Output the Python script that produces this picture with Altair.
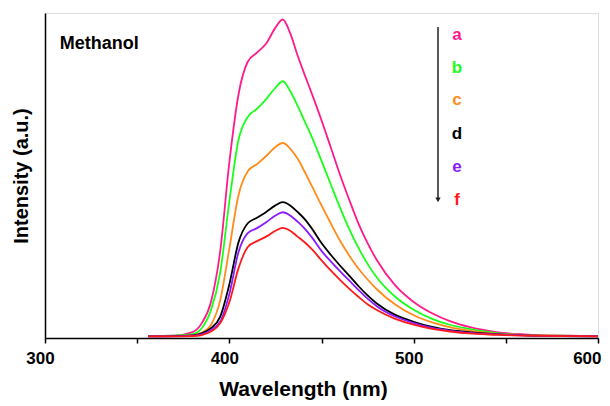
import altair as alt
import pandas as pd

# Wavelength grid (nm)
wavelength = [356, 370, 380, 385, 390, 395, 400, 405, 410, 415, 420, 425, 429, 433, 437, 441,
              445, 450, 455, 460, 465, 470, 475, 480, 490, 500, 510, 520, 530, 545, 560, 580, 600]

# Intensities (a.u.)
curve_a = [0.6, 0.7, 1.8, 4.5, 11.0, 26.5, 54.0, 75.0, 85.0, 87.8, 90.6, 95.5, 98.0, 93.8, 87.0, 80.8,
           74.8, 67.0, 58.7, 50.3, 42.6, 35.3, 29.2, 24.0, 16.2, 11.1, 7.6, 5.1, 3.4, 1.8, 1.1, 0.7, 0.6]
curve_b = [0.6, 0.7, 1.2, 3.0, 8.5, 20.0, 42.0, 61.0, 68.0, 70.5, 73.5, 77.0, 79.0, 76.0, 71.5, 66.5,
           61.5, 54.5, 47.3, 40.2, 33.6, 27.8, 22.8, 18.6, 12.7, 8.7, 5.9, 4.0, 2.8, 1.5, 0.9, 0.7, 0.6]
curve_c = [0.6, 0.6, 0.9, 1.6, 4.0, 11.5, 27.5, 44.0, 51.3, 53.5, 56.0, 58.8, 60.0, 58.3, 55.2, 51.0,
           46.5, 40.8, 35.3, 30.0, 25.4, 21.4, 18.0, 15.0, 10.3, 7.0, 4.8, 3.3, 2.3, 1.3, 0.9, 0.7, 0.6]
curve_d = [0.5, 0.6, 0.8, 1.4, 3.0, 6.5, 16.5, 29.5, 35.3, 37.0, 38.8, 40.8, 41.8, 40.8, 38.8, 36.5,
           33.5, 29.2, 25.6, 22.3, 19.2, 16.0, 13.1, 10.6, 7.1, 5.0, 3.4, 2.4, 1.8, 1.2, 0.8, 0.6, 0.5]
curve_e = [0.5, 0.5, 0.7, 1.1, 2.5, 5.0, 13.5, 26.5, 32.3, 33.8, 35.6, 37.7, 38.7, 37.7, 35.8, 33.6,
           30.8, 26.8, 23.6, 20.6, 17.7, 14.8, 12.1, 9.8, 6.6, 4.6, 3.1, 2.2, 1.6, 1.1, 0.8, 0.6, 0.5]
curve_f = [0.5, 0.5, 0.6, 0.9, 2.0, 4.5, 11.0, 21.5, 28.0, 29.8, 31.2, 33.0, 33.9, 33.0, 31.2, 29.4,
           27.2, 23.9, 20.8, 17.9, 15.2, 12.7, 10.4, 8.6, 5.9, 4.1, 2.8, 2.0, 1.4, 1.0, 0.7, 0.6, 0.5]

series_names = ["a", "b", "c", "d", "e", "f"]
series_colors = ["#ff1a8c", "#1aff1a", "#ff8c1a", "#000000", "#8c1aff", "#ff1a1a"]
series_values = [curve_a, curve_b, curve_c, curve_d, curve_e, curve_f]

# Axis ticks
tick_values = [300, 350, 400, 450, 500, 550, 600]

# Annotation positions (data units)
label_x = [523.5] * 6
label_y = [93.2, 83.1, 73.2, 62.8, 52.6, 42.5]
arrow_x = 513.2
arrow_top = 95.7
arrow_bottom = 42.5
title_text = "Methanol"
title_x = 308.0
title_y = 90.5

rows = []
for name, vals in zip(series_names, series_values):
    for w, v in zip(wavelength, vals):
        rows.append({"wavelength": w, "intensity": v, "series": name})
df = pd.DataFrame(rows)

labels_df = pd.DataFrame({"x": label_x, "y": label_y, "series": series_names})
arrow_df = pd.DataFrame({"x": [arrow_x], "y": [arrow_top], "y2": [arrow_bottom]})
head_df = pd.DataFrame({"x": [arrow_x], "y": [arrow_bottom]})
title_df = pd.DataFrame({"x": [title_x], "y": [title_y], "t": [title_text]})

FONT = "Liberation Sans"

xscale = alt.Scale(domain=[300, 600], nice=False, zero=False)
yscale = alt.Scale(domain=[0, 100], nice=False, zero=False)
cscale = alt.Scale(domain=series_names, range=series_colors)

xaxis = alt.Axis(
    title="Wavelength (nm)",
    values=tick_values,
    labelExpr="datum.value % 100 == 0 ? datum.label : ''",
    grid=False, tickSize=5, tickColor="black", tickWidth=1.5,
    domainColor="black", domainWidth=1.5,
    labelFont=FONT, labelFontSize=17, labelFontWeight="bold", labelColor="black",
    labelPadding=7, labelFlush=False,
    labelAlign={"condition": {"test": "datum.value == 600", "value": "right"}, "value": "center"},
    labelOffset={"condition": {"test": "datum.value == 600", "value": 3}, "value": -5},
    titleFont=FONT, titleFontSize=21, titleFontWeight="bold", titleColor="black",
    titlePadding=12, titleX=258,
)
yaxis = alt.Axis(
    title="Intensity (a.u.)",
    labels=False, ticks=False, grid=False,
    domainColor="black", domainWidth=1.5,
    titleFont=FONT, titleFontSize=20, titleFontWeight="bold", titleColor="black",
    titleX=-24, titleBaseline="middle", titleAngle=-90, titleAlign="center",
)

lines = alt.Chart(df).mark_line(strokeWidth=1.8, interpolate="monotone").encode(
    x=alt.X("wavelength:Q", scale=xscale, axis=xaxis),
    y=alt.Y("intensity:Q", scale=yscale, axis=yaxis),
    color=alt.Color("series:N", scale=cscale, legend=None),
)

letters = alt.Chart(labels_df).mark_text(
    font=FONT, fontSize=17, fontWeight="bold", align="center", baseline="middle"
).encode(
    x=alt.X("x:Q", scale=xscale),
    y=alt.Y("y:Q", scale=yscale),
    text="series:N",
    color=alt.Color("series:N", scale=cscale, legend=None),
)

arrow = alt.Chart(arrow_df).mark_rule(color="#222222", strokeWidth=1.5).encode(
    x=alt.X("x:Q", scale=xscale),
    y=alt.Y("y:Q", scale=yscale),
    y2="y2:Q",
)

head = alt.Chart(head_df).mark_point(
    shape="triangle-down", filled=True, size=28, color="#222222", opacity=1
).encode(
    x=alt.X("x:Q", scale=xscale),
    y=alt.Y("y:Q", scale=yscale),
)

title = alt.Chart(title_df).mark_text(
    font=FONT, fontSize=18, fontWeight="bold", align="left", baseline="middle", color="black"
).encode(
    x=alt.X("x:Q", scale=xscale),
    y=alt.Y("y:Q", scale=yscale),
    text="t:N",
)

chart = alt.layer(lines, arrow, head, letters, title).properties(
    width=553, height=325,
    autosize=alt.AutoSizeParams(type="none"),
    padding={"left": 37, "top": 5, "right": 4, "bottom": 63},
).configure_view(stroke="black", strokeWidth=1.5).configure(background="white")

chart.save("out.html", embed_options={"renderer": "svg", "actions": False})
